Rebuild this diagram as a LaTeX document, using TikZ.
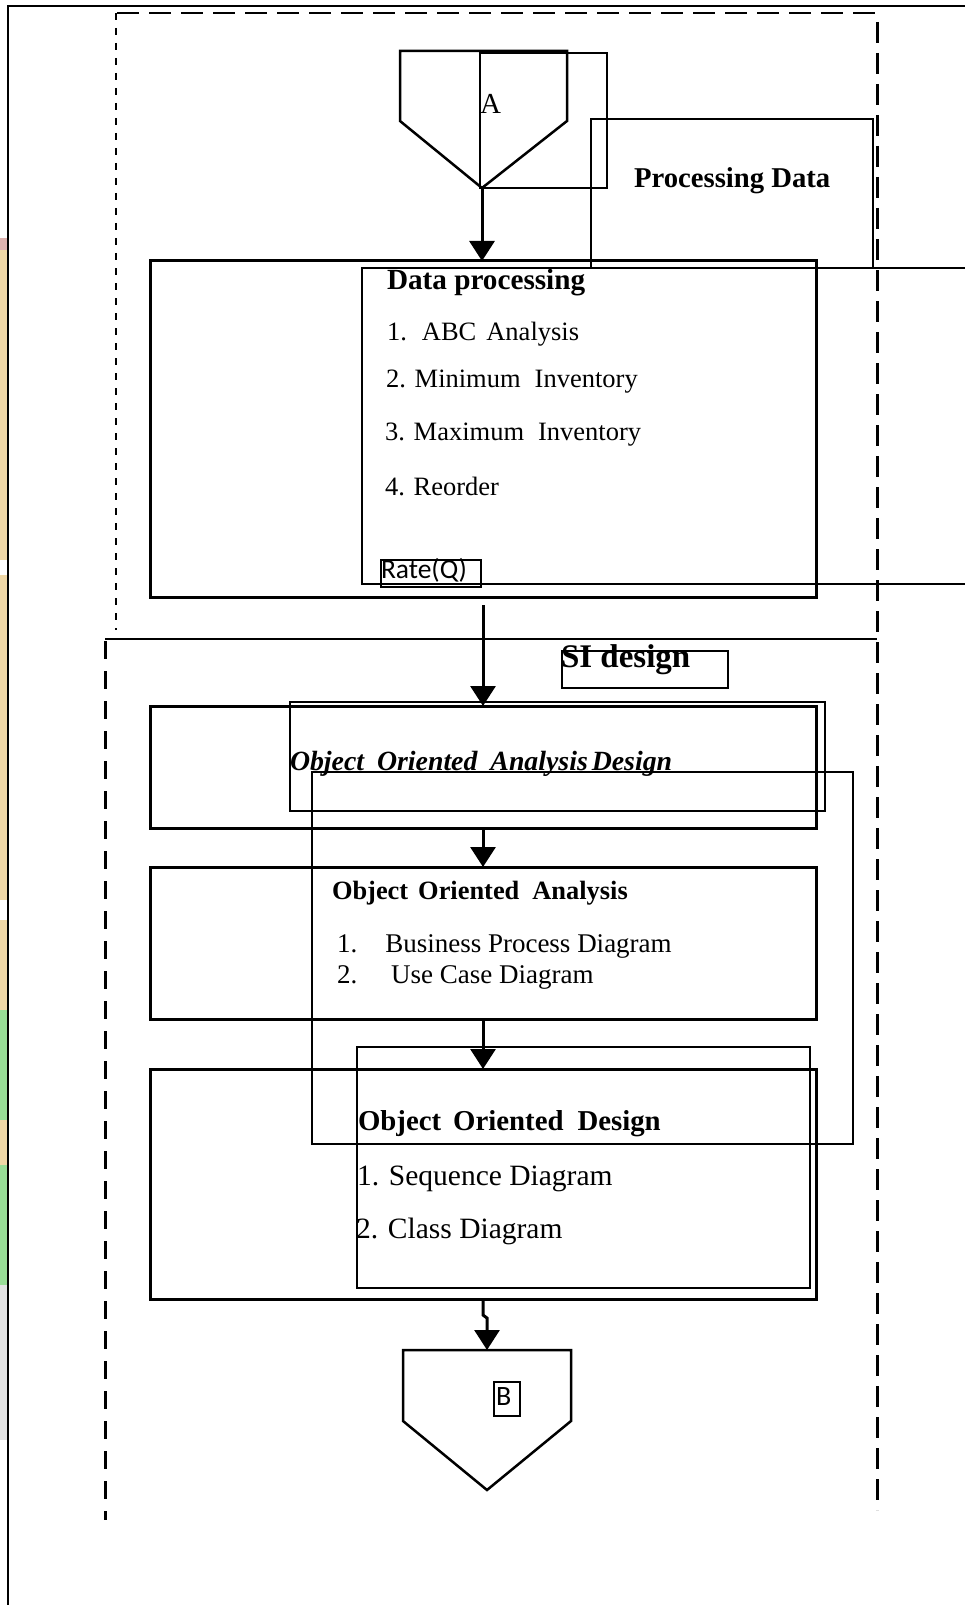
\documentclass[tikz,border=0pt]{standalone}
\usepackage{fontspec}
\setmainfont{Liberation Serif}
\newfontfamily\labelsans{Carlito}
\usetikzlibrary{arrows.meta,calc}

\definecolor{stripTan}{HTML}{EFD7A6}
\definecolor{stripPink}{HTML}{DDB3AF}
\definecolor{stripGreen}{HTML}{98DC96}
\definecolor{stripGrey}{HTML}{E2E2E2}

\begin{document}
\begin{tikzpicture}[x=1pt,y=-1pt,
  every node/.style={inner sep=0pt,outer sep=0pt},
  mainbox/.style={draw,line width=3pt,rectangle,inner sep=0pt},
  textframe/.style={draw,line width=2pt},
  lbl/.style={anchor=base west,inner sep=0pt,outer sep=0pt},
  flow/.style={line width=3pt,-{Triangle[width=25pt,length=20pt]}},
  groupline/.style={line width=2.5pt},
  tf/.style={font=\fontsize{#1}{#1}\selectfont},
  bf/.style={font=\bfseries\fontsize{#1}{#1}\selectfont},
]
\useasboundingbox (0,0) rectangle (965,1605);
\fill[white] (0,0) rectangle (965,1605);

% page edge strip and frame
\fill[stripPink]  (0,238) rectangle (7,250);
\fill[stripTan]   (0,250) rectangle (7,560);
\fill[stripTan]   (0,575) rectangle (7,900);
\fill[stripTan]   (0,920) rectangle (7,1010);
\fill[stripGreen] (0,1010) rectangle (7,1120);
\fill[stripTan]   (0,1120) rectangle (7,1165);
\fill[stripGreen] (0,1165) rectangle (7,1285);
\fill[stripGrey]  (0,1285) rectangle (7,1440);
\draw[line width=2.2pt] (965,6) -- (8,6) -- (8,1605);

% group outlines
\draw[line width=1.5pt,dash pattern=on 22pt off 10pt] (117,13) -- (877,13);
\draw[line width=1.3pt,dash pattern=on 7pt off 8pt] (116,13) -- (116,630);
\draw[line width=3pt,dash pattern=on 21pt off 10pt] (877,22) -- (877,1510);
\draw[line width=1.6pt] (105,639) -- (877,639);
\draw[line width=3pt,dash pattern=on 18pt off 12pt] (105,641) -- (105,1520);

% off-page connector A
\coordinate (atip) at (482,188);
\draw[groupline,line join=miter] (400,51) -- (567,51) -- (567,121) -- (atip) -- (400,121) -- cycle;
\draw[textframe] (480,53) rectangle (607,188);
\node[lbl,tf=29] (lblA) at (480,114) {A};

% processing data caption
\draw[line width=1.8pt] (591,119) rectangle (873,268);
\node[lbl,bf=28.7] (procdata) at (634,188) {Processing Data};

% main process boxes
\node[mainbox,minimum width=666pt,minimum height=336pt] (dp)   at (483,429) {};
\node[mainbox,minimum width=666pt,minimum height=122pt] (ooad) at (483,767) {};
\node[mainbox,minimum width=666pt,minimum height=152pt] (ooa)  at (483,943) {};
\node[mainbox,minimum width=666pt,minimum height=230pt] (ood)  at (483,1184) {};

% data processing contents
\draw[line width=2.2pt] (966,268) -- (362,268) -- (362,584) -- (966,584);
\node[lbl,bf=29.2] (dptitle) at (387,289) {Data processing};
\node[lbl,tf=26.5] (dp1) at (387,340) {1.\hspace{15pt}ABC\hspace{10pt}Analysis};
\node[lbl,tf=26.5] (dp2) at (386,387) {2. Minimum\hspace{14pt}Inventory};
\node[lbl,tf=26.5] (dp3) at (385,440) {3. Maximum\hspace{14pt}Inventory};
\node[lbl,tf=26.5] (dp4) at (385,495) {4. Reorder};
\draw[textframe] (381,560) rectangle (481,587);
\node[lbl,font=\labelsans\fontsize{27.5}{30}\selectfont] (rate) at (381,578) {Rate(Q)};

% SI design caption
\draw[textframe] (562,651) rectangle (728,688);
\node[lbl,bf=33] (sidesign) at (561,667) {SI design};

% object oriented analysis design
\draw[line width=2.2pt] (290,702) rectangle (825,811);
\node[lbl,font=\bfseries\itshape\fontsize{27.8}{32}\selectfont] (ooadtitle) at (290,770)
  {Object\hspace{13pt}Oriented\hspace{13pt}Analysis\hspace{4pt}Design};
\draw[textframe] (312,772) rectangle (853,1144);

% object oriented analysis
\node[lbl,bf=26.4] (ooatitle) at (332,899) {Object\hspace{10pt}Oriented\hspace{13pt}Analysis};
\node[lbl,tf=27] (ooa1) at (337,952) {1.\hspace{28pt}Business Process Diagram};
\node[lbl,tf=27] (ooa2) at (337,983) {2.\hspace{34pt}Use Case Diagram};

% object oriented design
\draw[textframe] (357,1047) rectangle (810,1288);
\node[lbl,bf=28.8] (oodtitle) at (358,1130) {Object\hspace{12pt}Oriented\hspace{14pt}Design};
\node[lbl,tf=29.5] (ood1) at (357,1185) {1. Sequence Diagram};
\node[lbl,tf=29.5] (ood2) at (356,1238) {2. Class Diagram};

% off-page connector B
\coordinate (btop) at (487,1350);
\draw[groupline,line join=miter] (403,1350) -- (571,1350) -- (571,1421) -- (487,1490) -- (403,1421) -- cycle;
\draw[textframe] (494,1382) rectangle (520,1416);
\node[lbl,font=\labelsans\fontsize{28}{30}\selectfont] (lblB) at (496,1405) {B};

% flow connectors
\draw[flow] (atip) -- (atip |- dp.north);
\draw[flow] ([yshift=-8pt]dp.south) -- (ooad.north);
\draw[flow] (ooad.south) -- (ooa.north);
\draw[flow] (ooa.south) -- (ood.north);
\draw[flow] (ood.south) -- ++(0,16) -- ++(4,3) -- (btop);
\end{tikzpicture}
\end{document}
